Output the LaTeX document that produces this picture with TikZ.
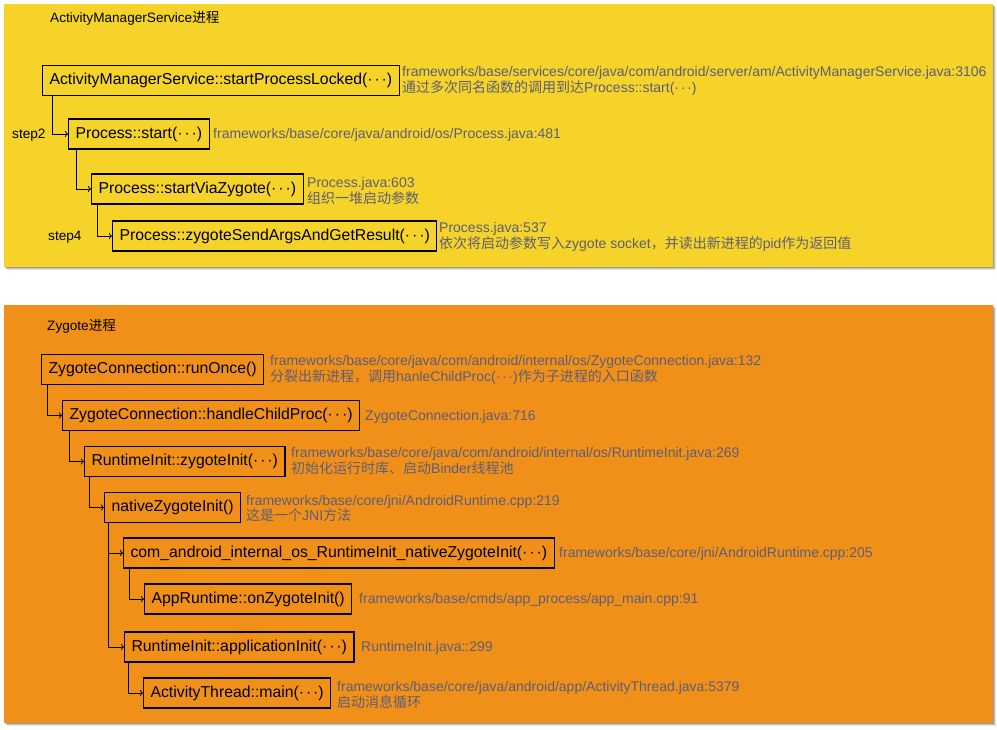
\documentclass[tikz,border=0pt]{standalone}
\usepackage{fontspec}
\setmainfont{Liberation Sans}
\newfontfamily\cjk{Noto Sans CJK SC}
\usetikzlibrary{arrows.meta}
\newcommand\zh[1]{{\cjk #1}}
\newcommand\mdots{\mbox{·\kern0.12em·\kern0.12em·}}
\definecolor{amsyellow}{HTML}{F6D328}
\definecolor{zygorange}{HTML}{F19019}
\definecolor{notegray}{HTML}{5C5E78}
\begin{document}
\begin{tikzpicture}[x=1pt,y=-1pt,
  func/.style={draw=black, line width=1.1pt, anchor=west, inner xsep=7pt, inner ysep=0pt,
    minimum height=30pt, font=\fontsize{15.8}{18}\selectfont, text=black},
  note/.style={anchor=west, align=left, inner sep=0pt, text=notegray,
    font=\fontsize{14}{16}\selectfont},
  label/.style={anchor=west, inner sep=0pt, text=black, font=\fontsize{13.6}{15}\selectfont},
  call/.style={draw=black, line width=0.8pt, -{To[length=3pt,width=6pt]}},
]
\useasboundingbox (0,0) rectangle (997,730);
\fill[white] (0,0) rectangle (997,730);

% panel shadows
\foreach \d/\o in {3/0.10,2/0.15,1/0.2}{
  \fill[black,opacity=\o] (4+\d,4+\d) rectangle (993+\d,267+\d);
  \fill[black,opacity=\o] (4+\d,305+\d) rectangle (993+\d,723+\d);
}
% panels
\fill[amsyellow] (4,4) rectangle (993,267);
\fill[zygorange] (4,305) rectangle (993,723);

% ActivityManagerService process
\node[label] (amstitle) at (50,18) {ActivityManagerService\zh{进程}};
\node[label] (step2) at (12,135) {step2};
\node[label] (step4) at (48,237) {step4};

\node[func] (b1) at (42,80.5) {ActivityManagerService::startProcessLocked(\mdots)};
\node[func] (b2) at (68,134) {Process::start(\mdots)};
\node[func] (b3) at (91,189) {Process::startViaZygote(\mdots)};
\node[func] (b4) at (112,236) {Process::zygoteSendArgsAndGetResult(\mdots)};

\node[note] (n1) at (402,81) {frameworks/base/services/core/java/com/android/server/am/ActivityManagerService.java:3106\\
  \zh{通过多次同名函数的调用到达}Process::start(\mdots)};
\node[note] (n2) at (213,134.5) {frameworks/base/core/java/android/os/Process.java:481};
\node[note] (n3) at (307,191) {Process.java:603\\ \zh{组织一堆启动参数}};
\node[note] (n4) at (439,237) {Process.java:537\\
  \zh{依次将启动参数写入}zygote socket\zh{，并读出新进程的}pid\zh{作为返回值}};

\draw[call] ([xshift=10pt]b1.south west) |- (b2.west);
\draw[call] ([xshift=8pt]b2.south west) |- (b3.west);
\draw[call] ([xshift=6pt]b3.south west) |- (b4.west);

% Zygote process
\node[label] (zygtitle) at (47,326) {Zygote\zh{进程}};

\node[func] (z1) at (41,369.5) {ZygoteConnection::runOnce()};
\node[func] (z2) at (62,415.5) {ZygoteConnection::handleChildProc(\mdots)};
\node[func] (z3) at (84,461.5) {RuntimeInit::zygoteInit(\mdots)};
\node[func] (z4) at (104,507.5) {nativeZygoteInit()};
\node[func] (z5) at (123,553) {com\_android\_internal\_os\_RuntimeInit\_nativeZygoteInit(\mdots)};
\node[func] (z6) at (144,599) {AppRuntime::onZygoteInit()};
\node[func] (z7) at (124,647) {RuntimeInit::applicationInit(\mdots)};
\node[func] (z8) at (143,693) {ActivityThread::main(\mdots)};

\node[note] (m1) at (270,370) {frameworks/base/core/java/com/android/internal/os/ZygoteConnection.java:132\\
  \zh{分裂出新进程，调用}hanleChildProc(\mdots)\zh{作为子进程的入口函数}};
\node[note] (m2) at (365,416.5) {ZygoteConnection.java:716};
\node[note] (m3) at (291,461) {frameworks/base/core/java/com/android/internal/os/RuntimeInit.java:269\\
  \zh{初始化运行时库、启动}Binder\zh{线程池}};
\node[note] (m4) at (246,508.5) {frameworks/base/core/jni/AndroidRuntime.cpp:219\\
  \zh{这是一个}JNI\zh{方法}};
\node[note] (m5) at (559,553.5) {frameworks/base/core/jni/AndroidRuntime.cpp:205};
\node[note] (m6) at (359,599.5) {frameworks/base/cmds/app\_process/app\_main.cpp:91};
\node[note] (m7) at (361,647.5) {RuntimeInit.java::299};
\node[note] (m8) at (337,695) {frameworks/base/core/java/android/app/ActivityThread.java:5379\\
  \zh{启动消息循环}};

\draw[call] ([xshift=6pt]z1.south west) |- (z2.west);
\draw[call] ([xshift=7pt]z2.south west) |- (z3.west);
\draw[call] ([xshift=5pt]z3.south west) |- (z4.west);
\draw[call] ([xshift=4pt]z4.south west) |- (z5.west);
\draw[call] ([xshift=4pt]z4.south west) |- (z7.west);
\draw[call] ([xshift=6pt]z5.south west) |- (z6.west);
\draw[call] ([xshift=4pt]z7.south west) |- (z8.west);
\end{tikzpicture}
\end{document}
